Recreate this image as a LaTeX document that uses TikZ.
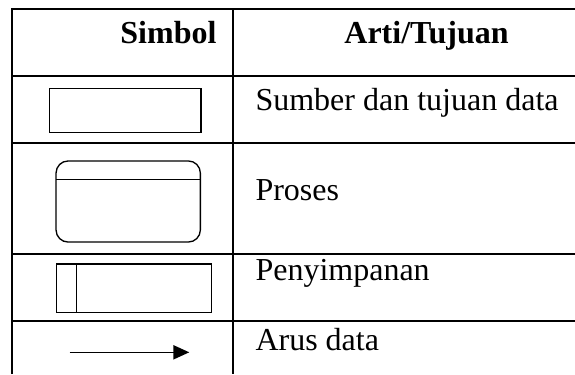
\documentclass[tikz,border=0pt]{standalone}
\usepackage{fontspec}
\setmainfont{Liberation Serif}
\usetikzlibrary{arrows.meta}

\begin{document}
\begin{tikzpicture}[x=0.375pt,y=-0.375pt]

		\tikzstyle{grid}=[draw=black,line width=0.8pt]
		\tikzstyle{label}=[font=\fontsize{12}{14}\selectfont,inner sep=0pt]
		\tikzstyle{head}=[label,font=\fontsize{12}{14}\selectfont\bfseries]
		\tikzstyle{symbol}=[rectangle,draw=black,line width=0.5pt,
			inner sep=0pt]
		\tikzstyle{flow}=[-{Triangle[length=6pt,width=5.3pt]},
			draw=black,line width=0.6pt]

		\useasboundingbox (0,0) rectangle (575,374);

		% table lines
		\draw[grid]	(12,374) -- (12,9) -- (575,9);
		\draw[grid]	(232.7,9) -- (232.7,374);
		\foreach \y in {75.7,143.3,254,321}
			\draw[grid]	(12,\y) -- (575,\y);

		% header
		\node[head,anchor=base east]	(simbol)	at (217,43)	{Simbol};
		\node[head,anchor=base]	(arti)	at (426.5,43)	{Arti/Tujuan};

		% symbols
		\node[symbol,minimum width=56.9pt,minimum height=16.6pt]
			(entity)	at (125.2,110.5)	{};
		\node[symbol,rounded corners=4.5pt,
			minimum width=54.1pt,minimum height=30.4pt,
			path picture={\draw[line width=0.5pt]
				([yshift=-6.9pt]path picture bounding box.north west) --
				([yshift=-6.9pt]path picture bounding box.north east);}]
			(process)	at (128.2,201.5)	{};
		\node[symbol,minimum width=58pt,minimum height=18.1pt,
			path picture={\draw[line width=0.5pt]
				([xshift=7.35pt]path picture bounding box.north west) --
				([xshift=7.35pt]path picture bounding box.south west);}]
			(store)	at (134,288.2)	{};
		\coordinate	(flow-a)	at (69.7,352.3);
		\coordinate	(flow-b)	at (189.3,352.3);
		\draw[flow]	(flow-a)	--	(flow-b);

		% meanings
		\node[label,anchor=base west]	(sumber)	at (255,110)	{Sumber dan tujuan data};
		\node[label,anchor=base west]	(proses)	at (255,200)	{Proses};
		\node[label,anchor=base west]	(simpan)	at (255,280)	{Penyimpanan};
		\node[label,anchor=base west]	(arus)	at (255,350)	{Arus data};

	\end{tikzpicture}
\end{document}
